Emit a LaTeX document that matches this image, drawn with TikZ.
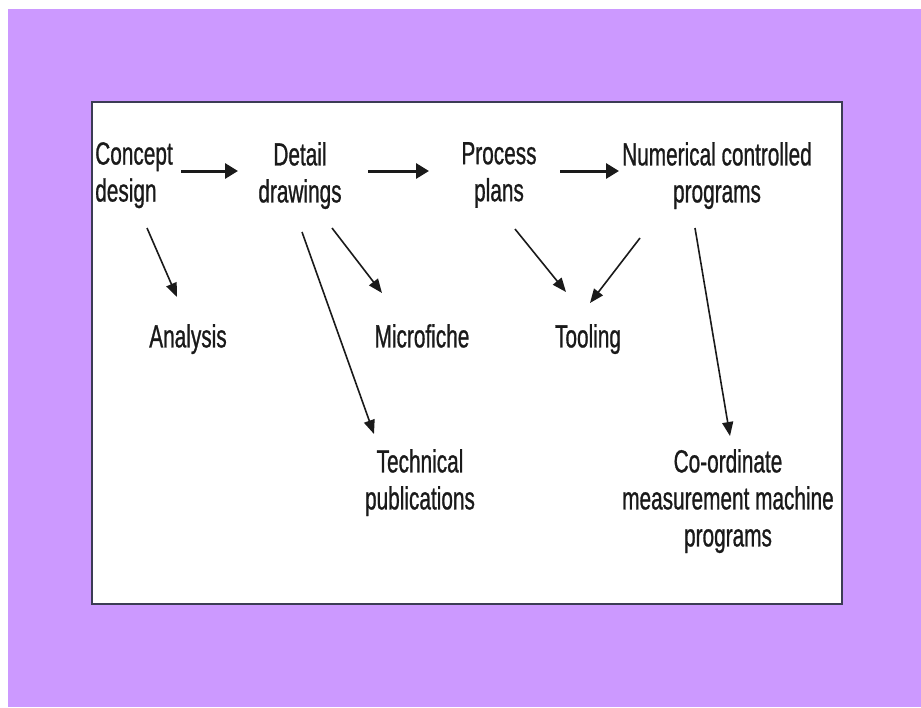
\documentclass[tikz,border=0pt]{standalone}
\usepackage{fontspec}
\setmainfont{Liberation Sans}[FakeStretch=0.65,FakeBold=0.8]
\usetikzlibrary{arrows.meta}
\definecolor{bgpurple}{HTML}{CC99FF}
\definecolor{framecol}{HTML}{3C3C55}
\definecolor{txt}{HTML}{1A1A1A}
\begin{document}
\begin{tikzpicture}[x=1pt,y=-1pt,
  lbl/.style={font=\fontsize{32}{37}\selectfont, text=txt, inner sep=0pt, anchor=north, align=center},
  bigarrow/.style={line width=3pt, draw=txt, -{Triangle[length=13pt,width=15pt]}},
  smallarrow/.style={line width=1.6pt, draw=txt, -{Triangle[length=14pt,width=11pt]}}]
\useasboundingbox (0,0) rectangle (921,707);
\fill[white] (0,0) rectangle (921,707);
\fill[bgpurple] (8,9) rectangle (921,707);
\draw[framecol, line width=1.5pt, fill=white] (92,102) rectangle (842,604);

% nodes
\node[lbl, align=left] (concept) at (134,142) {Concept\\design};
\node[lbl] (detail) at (300,142) {Detail\\drawings};
\node[lbl] (process) at (499,142) {Process\\plans};
\node[lbl] (numerical) at (717,142) {Numerical controlled\\programs};
\node[lbl] (analysis) at (188,324) {Analysis};
\node[lbl] (microfiche) at (422,324) {Microfiche};
\node[lbl] (tooling) at (588,324) {Tooling};
\node[lbl] (technical) at (420,449) {Technical\\publications};
\node[lbl] (cmm) at (728,449) {Co-ordinate\\measurement machine\\programs};

% main flow
\draw[bigarrow] ([shift={(47,29)}]concept.north) -- ([shift={(-62,29)}]detail.north);
\draw[bigarrow] ([shift={(68,29)}]detail.north) -- ([shift={(-70,29)}]process.north);
\draw[bigarrow] ([shift={(61,29)}]process.north) -- ([shift={(-98,29)}]numerical.north);

% branches
\draw[smallarrow] ([shift={(13,86)}]concept.north) -- ([shift={(-11,-27)}]analysis.north);
\draw[smallarrow] ([shift={(32,86)}]detail.north) -- ([shift={(-40,-31)}]microfiche.north);
\draw[smallarrow] ([shift={(2,90)}]detail.north) -- ([shift={(-46,-15)}]technical.north);
\draw[smallarrow] ([shift={(16,87)}]process.north) -- ([shift={(-22,-32)}]tooling.north);
\draw[smallarrow] ([shift={(-77,96)}]numerical.north) -- ([shift={(2,-21)}]tooling.north);
\draw[smallarrow] ([shift={(-22,86)}]numerical.north) -- ([shift={(2,-13)}]cmm.north);
\end{tikzpicture}
\end{document}
